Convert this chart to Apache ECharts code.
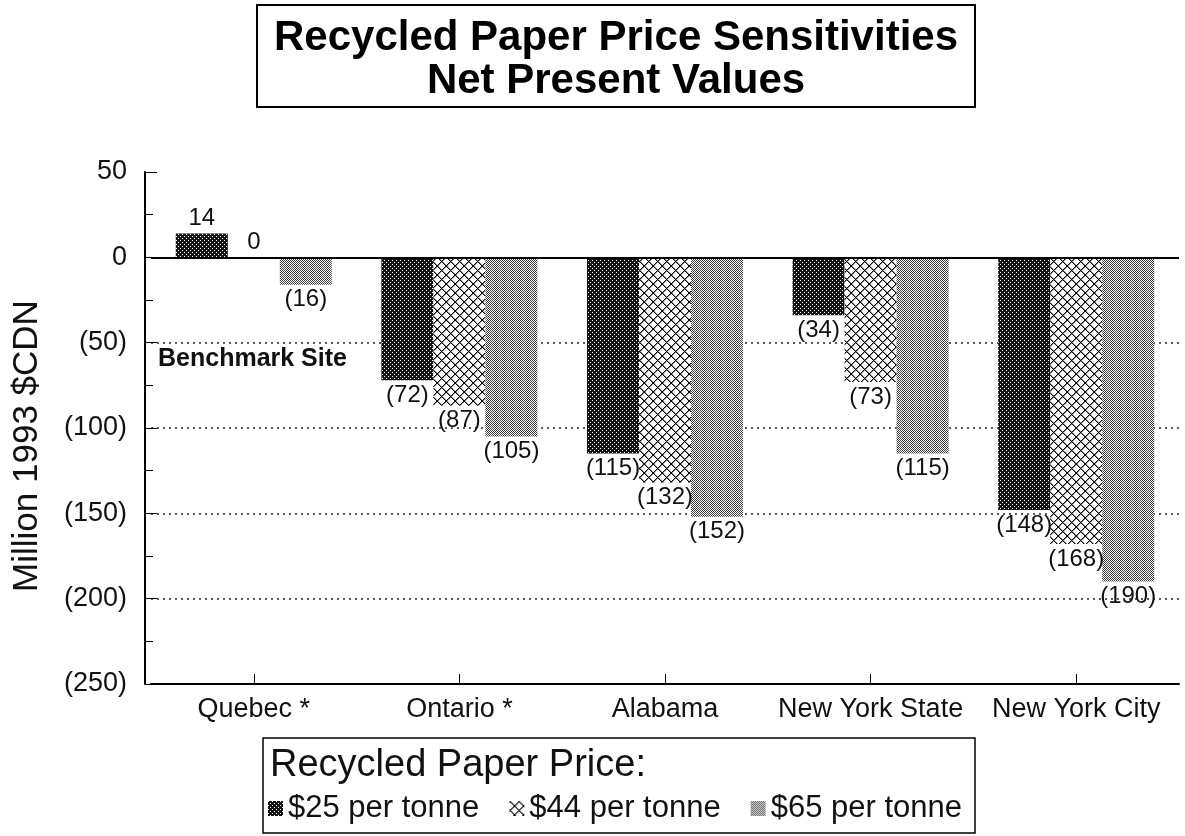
<!DOCTYPE html>
<html>
<head>
<meta charset="utf-8">
<script src="https://cdn.jsdelivr.net/npm/echarts@6/dist/echarts.min.js"></script>
<style>
  html, body { margin: 0; padding: 0; background: #fff; }
  #chart { width: 1185px; height: 836px; }
</style>
</head>
<body>
<div id="chart"></div>
<script>
const categories = ['Quebec *', 'Ontario *', 'Alabama', 'New York State', 'New York City'];
const price25 = [14, -72, -115, -34, -148];
const price44 = [0, -87, -132, -73, -168];
const price65 = [-16, -105, -152, -115, -190];
const seriesNames = ['$25 per tonne', '$44 per tonne', '$65 per tonne'];

// small bitmap fills that mimic the halftone patterns of the print
function makePattern(size, bg, shade) {
  const c = document.createElement('canvas');
  c.width = size; c.height = size;
  const ctx = c.getContext('2d');
  ctx.fillStyle = bg;
  ctx.fillRect(0, 0, size, size);
  for (let x = 0; x < size; x++) {
    for (let y = 0; y < size; y++) {
      const col = shade(x, y);
      if (col) {
        ctx.fillStyle = col;
        ctx.fillRect(x, y, 1, 1);
      }
    }
  }
  return { image: c, repeat: 'repeat' };
}

const darkFill = makePattern(4, '#151515', (x, y) => ((x === 0 && y === 0) || (x === 2 && y === 2)) ? '#ffffff' : null);
const hatchFill = makePattern(9, '#ffffff', (x, y) => {
  const a = (x + y) % 9, b = (x - y + 9) % 9;
  if (a === 0 || b === 0) return '#000000';
  if (a === 1 || b === 1) return '#8a8a8a';
  return null;
});
const lightFill = makePattern(2, '#ffffff', (x, y) => (x + y) % 2 === 0 ? '#3c3c3c' : null);

const fmt = v => v < 0 ? '(' + (-v) + ')' : String(v);

const chart = echarts.init(document.getElementById('chart'));

function barSeries(name, values, fill) {
  return {
    name: name,
    type: 'bar',
    // a zero bar keeps its label above the axis line
    data: values.map(v => v === 0 ? { value: v, label: { position: 'top' } } : v),
    barWidth: 52,
    barGap: '0%',
    itemStyle: { color: fill },
    label: {
      show: true,
      position: 'outside',
      distance: 3,
      color: '#111',
      fontSize: 24,
      fontFamily: 'Liberation Sans',
      formatter: p => fmt(p.value)
    }
  };
}

const s1 = barSeries(seriesNames[0], price25, darkFill);
s1.markLine = {
  silent: true,
  symbol: 'none',
  label: { show: false },
  lineStyle: { color: '#000', type: 'solid', width: 2 },
  data: [{ yAxis: 0 }]
};

chart.setOption({
  animation: false,
  backgroundColor: '#fff',
  textStyle: { fontFamily: 'Liberation Sans' },
  grid: { left: 151, right: 6, top: 172, bottom: 152 },
  legend: {
    left: 263,
    top: 788,
    itemWidth: 15,
    itemHeight: 15,
    itemGap: 30,
    icon: 'rect',
    textStyle: { fontSize: 31, color: '#111', fontFamily: 'Liberation Sans' },
    data: seriesNames
  },
  xAxis: {
    type: 'category',
    data: categories,
    axisLine: { onZero: false, lineStyle: { color: '#000', width: 2 } },
    axisTick: { show: true, alignWithLabel: true, inside: true, length: 10, lineStyle: { color: '#000' } },
    axisLabel: { interval: 0, fontSize: 27, color: '#111', margin: 12 }
  },
  yAxis: {
    type: 'value',
    min: -250,
    max: 50,
    interval: 50,
    offset: 6,
    name: 'Million 1993 $CDN',
    nameLocation: 'middle',
    nameRotate: 90,
    nameGap: 100,
    nameTextStyle: { fontSize: 35, color: '#111', padding: [0, 36, 0, 0] },
    axisLine: { show: true, lineStyle: { color: '#000', width: 2 } },
    axisTick: { show: true, inside: true, length: 12, lineStyle: { color: '#000' } },
    minorTick: { show: true, splitNumber: 2, length: 8, lineStyle: { color: '#000' } },
    axisLabel: { fontSize: 27, color: '#111', margin: 18, formatter: fmt },
    splitLine: {
      show: true,
      lineStyle: {
        type: [2, 4],
        width: 1.5,
        color: ['transparent', '#222', '#222', '#222', '#222', '#222', 'transparent']
      }
    }
  },
  graphic: [
    {
      type: 'rect',
      shape: { x: 257, y: 5, width: 718, height: 102 },
      style: { fill: '#fff', stroke: '#000', lineWidth: 2 }
    },
    {
      type: 'text',
      x: 616, y: 60,
      style: {
        text: 'Recycled Paper Price Sensitivities\nNet Present Values',
        align: 'center', verticalAlign: 'middle',
        font: 'bold 42px "Liberation Sans"', lineHeight: 43, fill: '#000'
      }
    },
    {
      type: 'rect',
      shape: { x: 263, y: 738, width: 712, height: 95 },
      style: { fill: 'none', stroke: '#000', lineWidth: 1.5 }
    },
    {
      type: 'text',
      x: 270, y: 766,
      style: {
        text: 'Recycled Paper Price:',
        verticalAlign: 'middle',
        font: '38px "Liberation Sans"', fill: '#111'
      }
    },
    {
      type: 'text',
      x: 158, y: 359,
      style: {
        text: 'Benchmark Site',
        verticalAlign: 'middle',
        font: 'bold 25px "Liberation Sans"', fill: '#111'
      }
    }
  ],
  series: [
    s1,
    barSeries(seriesNames[1], price44, hatchFill),
    barSeries(seriesNames[2], price65, lightFill)
  ]
});
</script>
</body>
</html>
